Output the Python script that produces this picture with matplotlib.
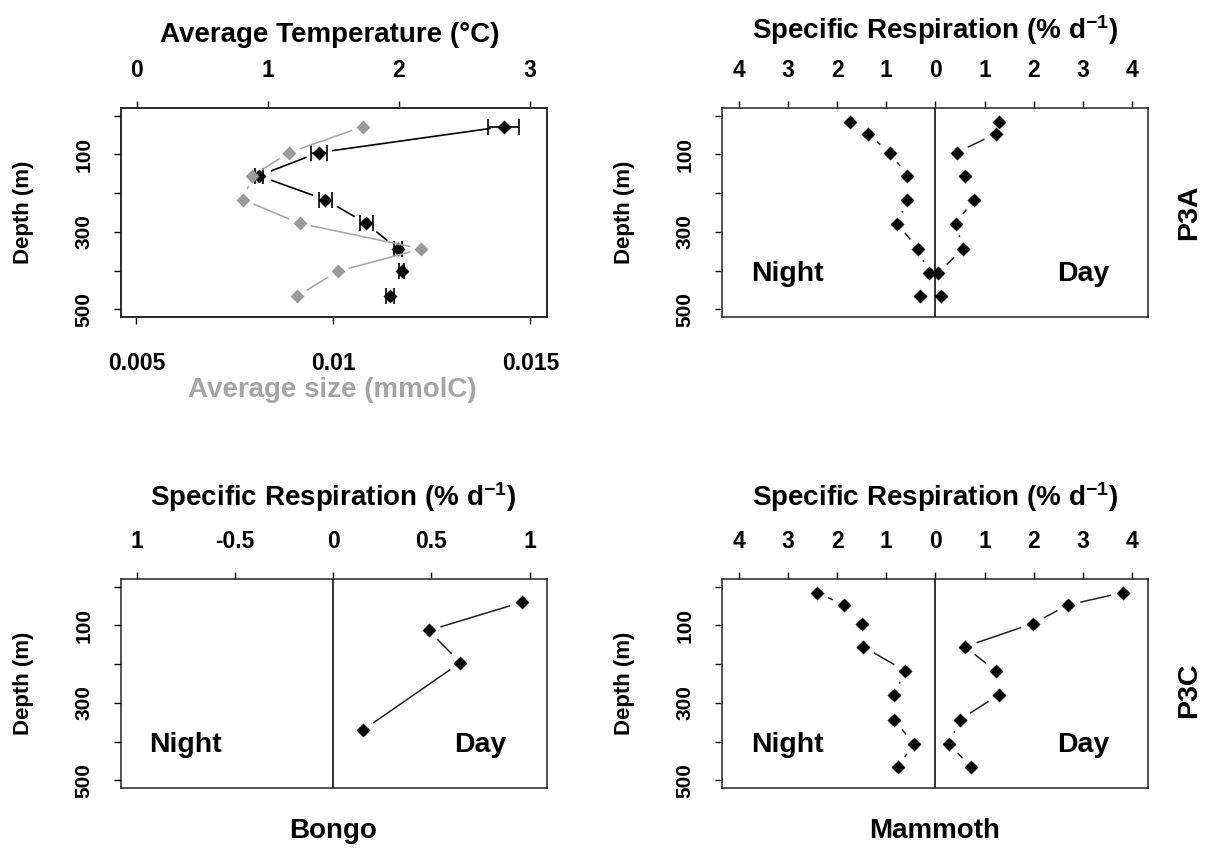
import numpy as np
import matplotlib
matplotlib.use("Agg")
import matplotlib.pyplot as plt

plt.rcParams['font.family'] = ['Liberation Sans', 'DejaVu Sans']
plt.rcParams['font.weight'] = 'bold'
plt.rcParams['mathtext.fontset'] = 'custom'
plt.rcParams['mathtext.bf'] = 'Liberation Sans:bold'
plt.rcParams['mathtext.rm'] = 'Liberation Sans:bold'
plt.rcParams['mathtext.default'] = 'bf'

# top left: temperature and average size profile (P3A)
temp_depth = [28, 95, 155, 217, 278, 344, 402, 466]
temp = [2.80, 1.39, 0.93, 1.44, 1.75, 1.99, 2.02, 1.93]
temp_err = [0.12, 0.06, 0.03, 0.05, 0.05, 0.03, 0.02, 0.03]
size = [0.01075, 0.00888, 0.00794, 0.00771, 0.00914, 0.01223, 0.01011, 0.00908]

# mammoth net depths (P3A and P3C)
mam_depth = [15, 47, 95, 155, 217, 279, 344, 406, 466]
p3a_night = [1.74, 1.38, 0.93, 0.57, 0.57, 0.78, 0.35, 0.14, 0.32]
p3a_day = [1.29, 1.22, 0.43, 0.60, 0.78, 0.41, 0.56, 0.05, 0.12]
p3c_night = [2.41, 1.86, 1.50, 1.47, 0.62, 0.84, 0.84, 0.44, 0.77]
p3c_day = [3.81, 2.70, 1.98, 0.60, 1.22, 1.29, 0.49, 0.28, 0.72]

# bongo (P3C, day only)
bongo_depth = [40, 113, 196, 370]
bongo_day = [0.96, 0.486, 0.647, 0.152]

resp_ticks = [-4, -3, -2, -1, 0, 1, 2, 3, 4]
resp_labels = ['4', '3', '2', '1', '0', '1', '2', '3', '4']
bongo_ticks = [-1, -0.5, 0, 0.5, 1]
bongo_labels = ['1', '-0.5', '0', '0.5', '1']
depth_ticks = [0, 100, 200, 300, 400, 500]
depth_labels = ['', '100', '', '300', '', '500']

W, H = 1211, 850
GRAY = '#9a9a9a'
TICK_FS = 16.5
TITLE_FS = 20


def px(x, y):
    return x / W, 1 - y / H


def gapped_line(ax, x, y, gap=13, **kw):
    # R type="b": lines stop short of the points
    pts = ax.transData.transform(np.column_stack([x, y]))
    inv = ax.transData.inverted()
    for p, q in zip(pts[:-1], pts[1:]):
        d = q - p
        L = np.hypot(*d)
        if L <= 2 * gap:
            continue
        u = d / L
        a, b = inv.transform([p + u * gap, q - u * gap])
        ax.plot([a[0], b[0]], [a[1], b[1]], **kw)


def style_spines(ax):
    for s in ax.spines.values():
        s.set_linewidth(1.1)
        s.set_color('#222222')


def setup_axes(rect, xlim, xticks, xlabels):
    ax = fig.add_axes(rect)
    ax.set_xlim(*xlim)
    ax.set_ylim(520, -20)
    ax.set_xticks(xticks)
    ax.set_xticklabels(xlabels)
    ax.set_yticks(depth_ticks)
    ax.set_yticklabels(depth_labels, rotation=90, va='center')
    ax.tick_params(axis='x', direction='out', length=5, width=1, pad=14, labelsize=TICK_FS,
                   top=True, bottom=False, labeltop=True, labelbottom=False)
    ax.tick_params(axis='y', direction='out', length=5, width=1, pad=15, labelsize=15)
    style_spines(ax)
    ax.set_ylabel('Depth (m)', fontsize=16, fontweight='bold')
    ax.yaxis.set_label_coords(-0.205, 0.5)
    return ax


fig = plt.figure(figsize=(W / 100, H / 100), dpi=100)

w = 426 / W
h = 209 / H
left1 = 121 / W
left2 = 722 / W
bot_top = 1 - 317 / H
bot_bot = 1 - 788 / H

# panel 1: temperature on top axis, size on bottom axis
ax1 = setup_axes([left1, bot_top, w, h], (-0.12, 3.13), [0, 1, 2, 3], ['0', '1', '2', '3'])
ax1s = ax1.twiny()
ax1.tick_params(axis='x', top=True, bottom=False, labeltop=True, labelbottom=False)
ax1s.set_xlim(0.00461, 0.01542)
ax1s.set_xticks([0.005, 0.01, 0.015])
ax1s.set_xticklabels(['0.005', '0.01', '0.015'])
ax1s.tick_params(axis='x', direction='out', length=5, width=1, pad=20, labelsize=TICK_FS,
                 top=False, bottom=True, labeltop=False, labelbottom=True)
style_spines(ax1s)

ax1s.plot(size, temp_depth, 'D', color=GRAY, ms=7.5, mec='none')
gapped_line(ax1s, size, temp_depth, gap=12, color='#aaaaaa', lw=1.2)
ax1.errorbar(temp, temp_depth, xerr=temp_err, fmt='D', color='black', ms=7.5,
             mec='none', ecolor='black', elinewidth=1.2, capsize=5.5, capthick=1.2)
gapped_line(ax1, temp, temp_depth, gap=14, color='black', lw=1.2)

# panels 2, 3, 4: respiration, night to the left and day to the right
ax2 = setup_axes([left2, bot_top, w, h], (-4.34, 4.32), resp_ticks, resp_labels)
ax3 = setup_axes([left1, bot_bot, w, h], (-1.08, 1.088), bongo_ticks, bongo_labels)
ax4 = setup_axes([left2, bot_bot, w, h], (-4.34, 4.32), resp_ticks, resp_labels)

for ax, night, day, depth in [(ax2, p3a_night, p3a_day, mam_depth),
                              (ax4, p3c_night, p3c_day, mam_depth),
                              (ax3, None, bongo_day, bongo_depth)]:
    ax.axvline(0, color='#222222', lw=1.3)
    if night is not None:
        nx = -np.array(night)
        ax.plot(nx, depth, 'D', color='black', ms=7.5, mec='none')
        gapped_line(ax, nx, depth, gap=13, color='#222222', lw=1.1)
    ax.plot(day, depth, 'D', color='black', ms=7.5, mec='none')
    gapped_line(ax, day, depth, gap=13, color='#222222', lw=1.1)

for ax, xn in [(ax2, 3.0), (ax4, 3.0), (ax3, 0.75)]:
    ax.text(-xn, 410, 'Night', fontsize=20.5, fontweight='bold', ha='center', va='center')
    ax.text(xn, 410, 'Day', fontsize=20.5, fontweight='bold', ha='center', va='center')

# titles and labels
fig.text(*px(330, 35), 'Average Temperature (°C)', fontsize=TITLE_FS, ha='center', va='center')
fig.text(*px(332, 390), 'Average size (mmolC)', fontsize=TITLE_FS, ha='center', va='center',
         color='#a5a5a5')
resp_title = 'Specific Respiration (% d$^{-1}$)'
fig.text(*px(935, 30), resp_title, fontsize=TITLE_FS, ha='center', va='center')
fig.text(*px(333, 497), resp_title, fontsize=TITLE_FS, ha='center', va='center')
fig.text(*px(935, 497), resp_title, fontsize=TITLE_FS, ha='center', va='center')
fig.text(*px(333, 831), 'Bongo', fontsize=TITLE_FS, ha='center', va='center')
fig.text(*px(935, 831), 'Mammoth', fontsize=TITLE_FS, ha='center', va='center')
fig.text(*px(1189, 212), 'P3A', fontsize=20.5, ha='center', va='center', rotation=90)
fig.text(*px(1189, 690), 'P3C', fontsize=20.5, ha='center', va='center', rotation=90)

fig.savefig('out.png', dpi=100)
